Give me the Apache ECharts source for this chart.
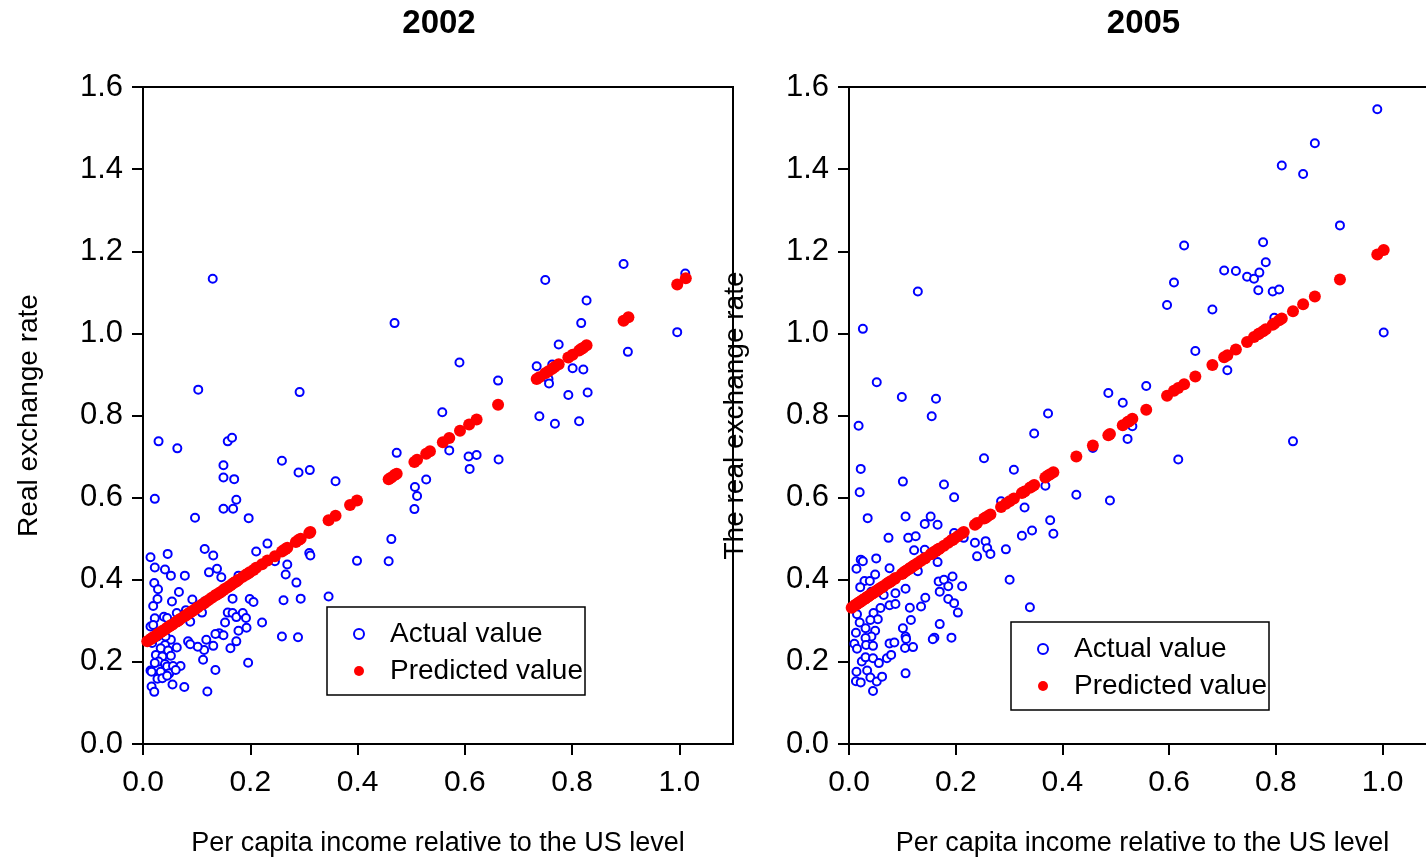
<!DOCTYPE html>
<html><head><meta charset="utf-8">
<script src="https://cdn.jsdelivr.net/npm/echarts@6/dist/echarts.min.js"></script>
<style>html,body{margin:0;padding:0;background:#fff;overflow:hidden;width:1426px;height:867px}#c{width:1470px;height:867px}</style>
</head><body><div id="c"></div>
<script>
// ---- data ----
const panelTitles = ['2002', '2005'];
const xAxisName = 'Per capita income relative to the US level';
const yAxisNames = ['Real exchange rate', 'The real exchange rate'];
const seriesNames = ['Actual value', 'Predicted value'];
const xTickValues = [0, 0.2, 0.4, 0.6, 0.8, 1.0];
const yTickValues = [0, 0.2, 0.4, 0.6, 0.8, 1.0, 1.2, 1.4, 1.6];

const actual2002 = [
 [0.103,0.863],[0.292,0.857],[0.029,0.737],[0.064,0.720],[0.158,0.737],[0.166,0.746],[0.259,0.690],[0.290,0.661],
 [0.311,0.667],[0.150,0.679],[0.150,0.649],[0.170,0.645],[0.022,0.597],[0.174,0.595],[0.150,0.573],[0.168,0.573],
 [0.097,0.551],[0.197,0.550],[0.359,0.640],[0.473,0.709],[0.507,0.626],[0.511,0.604],[0.506,0.572],[0.528,0.644],
 [0.463,0.499],[0.399,0.446],[0.458,0.445],[0.346,0.359],[0.259,0.262],[0.289,0.260],[0.232,0.488],[0.211,0.469],
 [0.269,0.437],[0.266,0.413],[0.286,0.393],[0.262,0.350],[0.294,0.354],[0.310,0.465],[0.312,0.459],[0.246,0.445],
 [0.014,0.455],[0.046,0.463],[0.115,0.475],[0.131,0.459],[0.022,0.430],[0.041,0.425],[0.052,0.410],[0.078,0.410],
 [0.123,0.418],[0.138,0.427],[0.146,0.406],[0.178,0.410],[0.021,0.392],[0.028,0.377],[0.027,0.353],[0.019,0.336],
 [0.067,0.370],[0.054,0.347],[0.092,0.352],[0.167,0.354],[0.199,0.353],[0.206,0.346],[0.115,0.347],[0.110,0.320],
 [0.080,0.326],[0.063,0.319],[0.022,0.306],[0.039,0.310],[0.045,0.307],[0.014,0.286],[0.019,0.290],[0.088,0.298],
 [0.158,0.320],[0.167,0.319],[0.174,0.309],[0.186,0.319],[0.192,0.307],[0.193,0.283],[0.178,0.276],[0.174,0.250],
 [0.222,0.296],[0.153,0.296],[0.142,0.270],[0.150,0.265],[0.135,0.268],[0.118,0.254],[0.131,0.239],[0.114,0.229],
 [0.102,0.237],[0.163,0.233],[0.112,0.205],[0.135,0.180],[0.196,0.198],[0.120,0.128],[0.077,0.139],[0.055,0.145],
 [0.016,0.140],[0.021,0.127],[0.084,0.250],[0.088,0.243],[0.063,0.235],
 [0.052,0.254],[0.041,0.241],[0.033,0.233],[0.047,0.228],[0.024,0.217],[0.036,0.213],[0.052,0.215],[0.029,0.201],
 [0.041,0.195],[0.022,0.197],[0.045,0.189],[0.056,0.190],[0.070,0.190],[0.014,0.179],[0.033,0.176],[0.049,0.172],
 [0.061,0.180],[0.027,0.159],[0.036,0.160],[0.045,0.166],[0.016,0.176],[0.027,0.262],[0.042,0.262],[0.017,0.246],
 [0.130,1.133],[0.469,1.025],
 [0.896,1.169],[0.750,1.130],[1.011,1.146],[0.827,1.080],[0.817,1.025],[0.996,1.003],[0.904,0.955],[0.775,0.973],
 [0.734,0.920],[0.763,0.924],[0.801,0.915],[0.821,0.912],[0.756,0.889],[0.757,0.878],[0.793,0.850],[0.829,0.856],
 [0.739,0.798],[0.768,0.780],[0.813,0.786],[0.590,0.929],[0.662,0.885],[0.558,0.808],[0.571,0.715],[0.607,0.700],
 [0.622,0.704],[0.609,0.670],[0.663,0.693]
];

const predicted2002 = [
 [0.008,0.250],[0.014,0.255],[0.016,0.257],[0.019,0.260],[0.022,0.262],[0.027,0.267],[0.029,0.269],[0.033,0.272],
 [0.036,0.275],[0.041,0.279],[0.045,0.283],[0.049,0.286],[0.052,0.289],[0.055,0.291],[0.061,0.297],[0.064,0.299],
 [0.067,0.302],[0.070,0.305],[0.077,0.311],[0.080,0.313],[0.084,0.317],[0.088,0.320],[0.092,0.324],[0.097,0.328],
 [0.102,0.333],[0.110,0.340],[0.114,0.343],[0.118,0.347],[0.123,0.351],[0.129,0.357],[0.135,0.362],[0.138,0.364],
 [0.142,0.368],[0.146,0.371],[0.150,0.375],[0.153,0.378],[0.158,0.382],[0.163,0.386],[0.167,0.390],[0.170,0.393],
 [0.174,0.396],[0.178,0.400],[0.186,0.407],[0.192,0.412],[0.196,0.415],[0.199,0.418],[0.206,0.424],[0.211,0.429],
 [0.222,0.438],[0.232,0.447],[0.246,0.457],[0.259,0.469],[0.262,0.472],[0.266,0.475],[0.269,0.478],[0.285,0.492],
 [0.290,0.497],[0.294,0.500],[0.310,0.514],[0.312,0.516],[0.346,0.545],[0.359,0.556],[0.386,0.582],[0.399,0.593],
 [0.458,0.645],[0.463,0.649],[0.469,0.655],[0.473,0.658],[0.506,0.687],[0.511,0.692],[0.528,0.707],[0.535,0.713],
 [0.559,0.735],[0.571,0.745],[0.591,0.763],[0.608,0.778],[0.622,0.790],[0.662,0.826],[0.734,0.889],[0.739,0.893],
 [0.750,0.903],[0.756,0.908],[0.763,0.914],[0.768,0.919],[0.775,0.925],[0.793,0.941],[0.801,0.948],[0.813,0.958],
 [0.817,0.962],[0.821,0.965],[0.827,0.971],[0.896,1.031],[0.905,1.039],[0.996,1.119],[1.012,1.134]
];

const actual2005 = [
 [0.052,0.881],[0.099,0.845],[0.163,0.841],[0.155,0.798],[0.018,0.775],[0.022,0.670],[0.020,0.613],[0.101,0.639],
 [0.178,0.632],[0.197,0.601],[0.035,0.550],[0.106,0.554],[0.142,0.536],[0.153,0.554],[0.166,0.534],[0.074,0.502],
 [0.111,0.502],[0.125,0.506],[0.197,0.514],[0.215,0.502],[0.122,0.472],[0.142,0.473],[0.166,0.443],[0.129,0.421],
 [0.022,0.449],[0.026,0.445],[0.051,0.452],[0.014,0.427],[0.076,0.428],[0.049,0.413],[0.029,0.397],[0.039,0.397],
 [0.021,0.382],[0.042,0.371],[0.065,0.363],[0.087,0.367],[0.106,0.378],[0.168,0.396],[0.178,0.400],[0.186,0.384],
 [0.194,0.408],[0.212,0.384],[0.143,0.356],[0.135,0.335],[0.170,0.371],[0.186,0.353],[0.197,0.343],[0.204,0.320],
 [0.076,0.338],[0.087,0.341],[0.059,0.331],[0.046,0.319],[0.054,0.304],[0.040,0.302],[0.114,0.332],[0.116,0.302],
 [0.015,0.316],[0.020,0.296],[0.013,0.271],[0.031,0.282],[0.049,0.276],[0.042,0.262],[0.031,0.258],[0.170,0.292],
 [0.101,0.282],[0.106,0.262],[0.107,0.256],[0.160,0.259],[0.157,0.255],[0.192,0.259],[0.076,0.245],[0.085,0.247],
 [0.105,0.234],[0.120,0.236],[0.010,0.244],[0.015,0.232],[0.032,0.241],[0.045,0.239],[0.024,0.201],[0.031,0.211],
 [0.045,0.209],[0.056,0.197],[0.071,0.209],[0.079,0.217],[0.014,0.176],[0.034,0.179],[0.013,0.153],[0.022,0.150],
 [0.040,0.162],[0.052,0.152],[0.062,0.164],[0.045,0.129],[0.106,0.172],[0.236,0.490],[0.256,0.494],[0.259,0.477],
 [0.265,0.463],[0.240,0.457],[0.253,0.696],[0.309,0.668],[0.294,0.474],[0.301,0.400],[0.285,0.591],[0.329,0.576],
 [0.324,0.507],[0.343,0.520],[0.347,0.756],[0.373,0.805],[0.368,0.629],[0.377,0.545],[0.383,0.512],[0.339,0.333],
 [0.426,0.607],[0.489,0.593],[0.486,0.855],[0.513,0.831],[0.457,0.721],[0.522,0.743],
 [0.990,1.546],[0.873,1.463],[0.811,1.409],[0.851,1.388],[0.920,1.263],[0.628,1.214],[0.776,1.222],[0.609,1.124],
 [0.596,1.069],[0.681,1.058],[0.703,1.153],[0.725,1.152],[0.746,1.138],[0.759,1.133],[0.769,1.148],[0.781,1.173],
 [0.767,1.105],[0.794,1.102],[0.806,1.107],[0.797,1.038],[1.002,1.002],[0.649,0.957],[0.709,0.910],[0.557,0.872],
 [0.531,0.774],[0.832,0.737],[0.617,0.693],[0.129,1.102],[0.026,1.011]
];

const predicted2005 = [
 [0.005,0.332],[0.010,0.337],[0.013,0.339],[0.015,0.341],[0.018,0.344],[0.020,0.345],[0.022,0.347],[0.024,0.349],
 [0.026,0.351],[0.029,0.353],[0.031,0.355],[0.034,0.358],[0.036,0.359],[0.039,0.362],[0.042,0.365],[0.045,0.367],
 [0.049,0.371],[0.052,0.373],[0.054,0.375],[0.056,0.377],[0.059,0.380],[0.062,0.382],[0.065,0.385],[0.071,0.390],
 [0.074,0.393],[0.076,0.394],[0.079,0.397],[0.085,0.402],[0.087,0.404],[0.099,0.414],[0.101,0.416],[0.105,0.420],
 [0.106,0.421],[0.111,0.425],[0.114,0.428],[0.116,0.429],[0.120,0.433],[0.122,0.435],[0.125,0.437],[0.129,0.441],
 [0.135,0.446],[0.142,0.452],[0.143,0.453],[0.153,0.462],[0.155,0.463],[0.157,0.465],[0.160,0.468],[0.163,0.470],
 [0.166,0.473],[0.168,0.475],[0.170,0.476],[0.178,0.483],[0.186,0.490],[0.192,0.496],[0.194,0.497],[0.197,0.500],
 [0.204,0.506],[0.212,0.513],[0.215,0.516],[0.236,0.534],[0.240,0.538],[0.253,0.549],[0.256,0.551],[0.259,0.554],
 [0.265,0.559],[0.285,0.577],[0.294,0.585],[0.301,0.591],[0.309,0.598],[0.324,0.611],[0.329,0.615],[0.339,0.624],
 [0.343,0.627],[0.347,0.631],[0.368,0.649],[0.373,0.654],[0.377,0.657],[0.383,0.662],[0.426,0.700],[0.457,0.727],
 [0.486,0.752],[0.489,0.755],[0.513,0.776],[0.522,0.784],[0.525,0.786],[0.531,0.792],[0.557,0.814],[0.596,0.848],
 [0.609,0.860],[0.617,0.867],[0.628,0.876],[0.649,0.895],[0.681,0.923],[0.703,0.942],[0.709,0.947],[0.725,0.961],
 [0.746,0.979],[0.759,0.991],[0.767,0.998],[0.769,1.000],[0.776,1.005],[0.781,1.010],[0.794,1.021],[0.797,1.024],
 [0.806,1.032],[0.811,1.036],[0.832,1.054],[0.851,1.071],[0.873,1.090],[0.920,1.131],[0.990,1.192],[1.002,1.203]
];

// ---- chart ----
const FONT = "'Liberation Sans', Arial, sans-serif";
const NARROW = "'Liberation Sans Narrow', 'Arial Narrow', 'Liberation Sans', sans-serif";
const panels = [
  {grid: {left: 143, top: 87, width: 590, height: 657}, legend: {left: 327, top: 607}, actual: actual2002, predicted: predicted2002},
  {grid: {left: 849, top: 87, width: 587, height: 657}, legend: {left: 1011, top: 622}, actual: actual2005, predicted: predicted2005}
];

const option = {
  animation: false,
  backgroundColor: '#fff',
  title: panels.map((p, i) => ({
    text: panelTitles[i],
    left: p.grid.left + p.grid.width / 2 - 4, top: 2, textAlign: 'center',
    textStyle: {fontFamily: NARROW, fontWeight: 'bold', fontSize: 33, color: '#000'}
  })),
  grid: panels.map(p => Object.assign({show: true, borderColor: '#000', borderWidth: 2, backgroundColor: '#fff'}, p.grid)),
  legend: panels.map(p => ({
    left: p.legend.left, top: p.legend.top, orient: 'vertical',
    data: seriesNames,
    itemWidth: 10, itemHeight: 10, itemGap: 9,
    padding: [13, 2, 10, 26],
    borderColor: '#000', borderWidth: 1.5, backgroundColor: '#fff',
    selectedMode: false,
    textStyle: {fontFamily: FONT, fontSize: 28, color: '#000', padding: [0, 0, 0, 21], lineHeight: 28}
  })),
  xAxis: panels.map((p, i) => ({
    gridIndex: i, type: 'value', min: 0, max: 1.1,
    name: xAxisName, nameLocation: 'middle', nameGap: 86,
    nameTextStyle: {fontFamily: FONT, fontSize: 27, color: '#000'},
    axisLine: {lineStyle: {color: '#000', width: 2}},
    axisTick: {show: true, length: 11, lineStyle: {color: '#000', width: 2}, customValues: xTickValues},
    axisLabel: {fontFamily: FONT, fontSize: 30, color: '#000', margin: 24, customValues: xTickValues,
      formatter: v => v.toFixed(1)},
    splitLine: {show: false}
  })),
  yAxis: panels.map((p, i) => ({
    gridIndex: i, type: 'value', min: 0, max: 1.6, interval: 0.2,
    name: yAxisNames[i], nameLocation: 'middle', nameGap: 100,
    nameTextStyle: {fontFamily: FONT, fontSize: 28, color: '#000'},
    axisLine: {lineStyle: {color: '#000', width: 2}},
    axisTick: {show: true, length: 11, lineStyle: {color: '#000', width: 2}},
    axisLabel: {fontFamily: FONT, fontSize: 31, color: '#000', margin: 20, formatter: v => v.toFixed(1)},
    splitLine: {show: false}
  })),
  series: panels.flatMap((p, i) => [
    {name: seriesNames[0], type: 'scatter', xAxisIndex: i, yAxisIndex: i, data: p.actual,
      symbol: 'emptyCircle', symbolSize: 8, itemStyle: {color: '#0000ff', borderColor: '#0000ff', borderWidth: 2.6, opacity: 1}},
    {name: seriesNames[1], type: 'scatter', xAxisIndex: i, yAxisIndex: i, data: p.predicted,
      symbol: 'circle', symbolSize: 12, itemStyle: {color: '#ff0000', opacity: 1}, z: 3}
  ])
};
const chart = echarts.init(document.getElementById('c'), null, {renderer: 'canvas'});
chart.setOption(option);
</script></body></html>
